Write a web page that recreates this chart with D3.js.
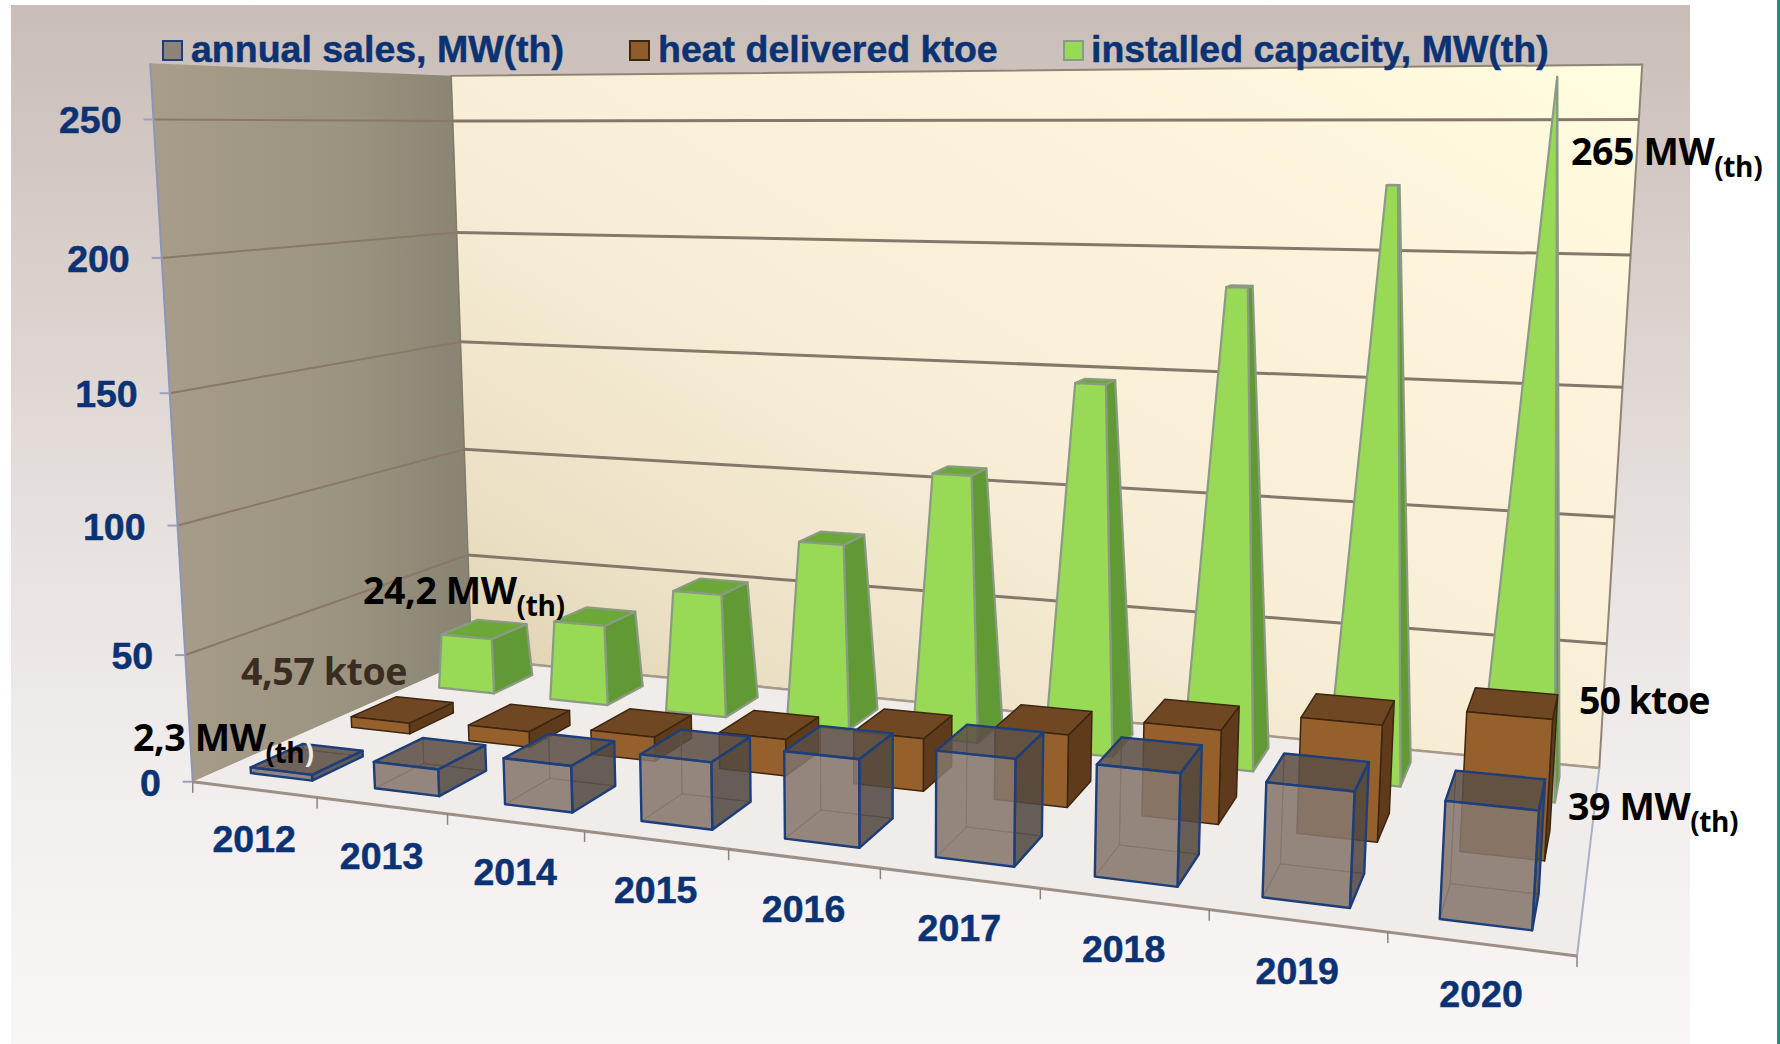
<!DOCTYPE html>
<html>
<head>
<meta charset="utf-8">
<script src="https://cdn.jsdelivr.net/npm/d3@7"></script>
<style>
  html, body { margin: 0; padding: 0; background: #fff; }
  svg { display: block; }
</style>
</head>
<body>
<div id="chart"></div>
<script>
// the values
let years = ["2012", "2013", "2014", "2015", "2016", "2017", "2018", "2019", "2020"];
let annualSales = [2.3, 10.4, 17.7, 25, 32, 38, 39, 39, 39];
let heatDelivered = [4.57, 6.5, 9.9, 14.6, 20.6, 27.7, 35.1, 42.5, 50];
let installedCapacity = [24.2, 34.6, 52.3, 77.3, 109, 148, 187, 226, 265];
let seriesNames = ["annual sales, MW(th)", "heat delivered ktoe", "installed capacity, MW(th)"];
let rows = ["sales", "heat", "capacity"];

let width = 1780, height = 1044;

let svg = d3.select("#chart").append("svg")
  .attr("width", width)
  .attr("height", height);

// scales: year -> 0..1 along the front edge, series -> 0..1 into the depth, value -> 0..1 up the wall
let x = d3.scaleBand().domain(years).range([0, 1]).paddingInner(0.5).paddingOuter(0.25);
let z = d3.scaleBand().domain(rows).range([0, 1]).paddingInner(0.5).paddingOuter(0.25);
let y = d3.scaleLinear().domain([0, 270]).range([0, 1]);

// camera: fitted once to where the corners of the 3d box sit in the picture [u, v, value, px, py]
let anchors = [
  [0, 0, 0, 193, 782], [1, 0, 0, 1577, 956], [0, 1, 0, 471, 659], [1, 1, 0, 1599, 768],
  [0, 0, 100, 178, 525], [0, 1, 100, 464, 449], [1, 1, 100, 1615, 517],
  [0, 0, 250, 153, 120], [0, 1, 250, 453, 121], [1, 1, 250, 1639, 119],
  [0, 0, 270, 150, 63], [0, 1, 270, 451, 76], [1, 1, 270, 1642, 65]
];

function solve(A, b) {
  let n = b.length;
  for (let i = 0; i < n; i++) {
    let best = i;
    for (let r = i + 1; r < n; r++) if (Math.abs(A[r][i]) > Math.abs(A[best][i])) best = r;
    [A[i], A[best]] = [A[best], A[i]];
    [b[i], b[best]] = [b[best], b[i]];
    for (let r = i + 1; r < n; r++) {
      let f = A[r][i] / A[i][i];
      for (let c = i; c < n; c++) A[r][c] -= f * A[i][c];
      b[r] -= f * b[i];
    }
  }
  let out = new Array(n).fill(0);
  for (let i = n - 1; i >= 0; i--) {
    let s = b[i];
    for (let c = i + 1; c < n; c++) s -= A[i][c] * out[c];
    out[i] = s / A[i][i];
  }
  return out;
}

function fitCamera() {
  let AtA = d3.range(11).map(() => new Array(11).fill(0));
  let Atb = new Array(11).fill(0);
  function addRow(row, t) {
    for (let i = 0; i < 11; i++) {
      Atb[i] += row[i] * t;
      for (let j = 0; j < 11; j++) AtA[i][j] += row[i] * row[j];
    }
  }
  anchors.forEach(function(a) {
    let u = a[0], v = a[1], w = y(a[2]), px = a[3] / 1000, py = a[4] / 1000;
    addRow([u, v, w, 1, 0, 0, 0, 0, -px * u, -px * v, -px * w], px);
    addRow([0, 0, 0, 0, u, v, w, 1, -py * u, -py * v, -py * w], py);
  });
  return solve(AtA, Atb);
}
let cam = fitCamera();

function project(u, v, value) {
  let w = y(value);
  let d = cam[8] * u + cam[9] * v + cam[10] * w + 1;
  return [1000 * (cam[0] * u + cam[1] * v + cam[2] * w + cam[3]) / d,
          1000 * (cam[4] * u + cam[5] * v + cam[6] * w + cam[7]) / d];
}

let poly = d3.line();
function face(points) { return poly(points) + "Z"; }

// gradients
let defs = svg.append("defs");
function gradient(id, x1, y1, x2, y2, stops) {
  let g = defs.append("linearGradient").attr("id", id)
    .attr("x1", x1).attr("y1", y1).attr("x2", x2).attr("y2", y2);
  stops.forEach(function(s) { g.append("stop").attr("offset", s[0]).attr("stop-color", s[1]); });
}
gradient("bgGrad", 0, 0, 0, 1, [[0, "#c9bdb7"], [0.25, "#d9cfcb"], [0.5, "#e6e1df"], [0.75, "#f2eeed"], [1, "#f9f6f5"]]);
gradient("backGrad", 0, 1, 1, 0, [[0, "#d9c9a6"], [0.2, "#ebe0c4"], [0.45, "#f8eed6"], [0.75, "#fdf3da"], [1, "#fffde0"]]);
gradient("sideGrad", 0, 0, 1, 0, [[0, "#a89d8a"], [0.6, "#9b9480"], [1, "#888372"]]);

// page background
svg.append("rect").attr("x", 11).attr("y", 5).attr("width", 1679).attr("height", 1039).attr("fill", "url(#bgGrad)");
svg.append("rect").attr("x", 1777).attr("y", 0).attr("width", 3).attr("height", height).attr("fill", "#1b8f82");

// walls and floor
svg.append("path")
  .attr("d", face([project(0, 1, 0), project(1, 1, 0), project(1, 1, 270), project(0, 1, 270)]))
  .attr("fill", "url(#backGrad)").attr("stroke", "#8f8475").attr("stroke-width", 2);
svg.append("path")
  .attr("d", face([project(0, 0, 0), project(0, 1, 0), project(0, 1, 270), project(0, 0, 270)]))
  .attr("fill", "url(#sideGrad)");
svg.append("path")
  .attr("d", face([project(0, 0, 0), project(1, 0, 0), project(1, 1, 0), project(0, 1, 0)]))
  .attr("fill", "#f0ecea");

// value gridlines and ticks
let yTicks = y.ticks(6);
yTicks.filter(d => d > 0).forEach(function(t) {
  svg.append("path").attr("d", poly([project(0, 0, t), project(0, 1, t)]))
    .attr("fill", "none").attr("stroke", "#8a7767").attr("stroke-width", 2);
  svg.append("path").attr("d", poly([project(0, 1, t), project(1, 1, t)]))
    .attr("fill", "none").attr("stroke", "#85786b").attr("stroke-width", 3);
});
svg.append("path").attr("d", poly([project(0, 0, 0), project(0, 0, 270)]))
  .attr("fill", "none").attr("stroke", "#8e96b6").attr("stroke-width", 2);
svg.append("path").attr("d", poly([project(0, 1, 270), project(0, 1, 0)]))
  .attr("fill", "none").attr("stroke", "#7f7a6a").attr("stroke-width", 1);
svg.append("path").attr("d", poly([project(1, 1, 0), project(1, 0, 0)]))
  .attr("fill", "none").attr("stroke", "#aab0c8").attr("stroke-width", 2);
svg.append("path").attr("d", poly([project(0, 0, 0), project(1, 0, 0)]))
  .attr("fill", "none").attr("stroke", "#9c9086").attr("stroke-width", 3);
svg.append("path").attr("d", poly([project(0, 1, 0), project(1, 1, 0)]))
  .attr("fill", "none").attr("stroke", "#a69a8b").attr("stroke-width", 2.5);

function blueText(sel) {
  return sel.attr("font-family", "Liberation Sans").attr("font-weight", "bold").attr("font-size", 37.5)
    .attr("fill", "#0b3273").attr("stroke", "#0b3273").attr("stroke-width", 0.5);
}

// y ticks and labels
yTicks.forEach(function(t) {
  let p = project(0, 0, t);
  svg.append("line").attr("x1", p[0] - 10).attr("x2", p[0]).attr("y1", p[1]).attr("y2", p[1])
    .attr("stroke", "#9aa0bc").attr("stroke-width", 2);
  blueText(svg.append("text").attr("x", p[0] - 32).attr("y", p[1] + 14).attr("text-anchor", "end")).text(t);
});

// x ticks and labels
d3.range(years.length + 1).forEach(function(i) {
  let p = project(i / years.length, 0, 0);
  svg.append("line").attr("x1", p[0]).attr("x2", p[0]).attr("y1", p[1]).attr("y2", p[1] + 11)
    .attr("stroke", "#8f8377").attr("stroke-width", 1.5);
});
years.forEach(function(yr) {
  let p = project(x(yr) + x.bandwidth() / 2, 0, 0);
  blueText(svg.append("text").attr("x", p[0]).attr("y", p[1] + 63).attr("text-anchor", "middle")).text(yr);
});

// corners of a bar at some height; taper narrows the section toward the tallest bar
function section(yr, row, value, taper) {
  let f = taper ? 1 - value / taper : 1;
  let cu = x(yr) + x.bandwidth() / 2, cv = z(row) + z.bandwidth() / 2;
  let hu = x.bandwidth() / 2 * f, hv = z.bandwidth() / 2 * f;
  return {
    fl: project(cu - hu, cv - hv, value),
    fr: project(cu + hu, cv - hv, value),
    br: project(cu + hu, cv + hv, value),
    bl: project(cu - hu, cv + hv, value)
  };
}

function drawSolid(g, yr, row, value, taper, c) {
  let lo = section(yr, row, 0, taper), hi = section(yr, row, value, taper);
  let faces = [
    {pts: [lo.fr, lo.br, hi.br, hi.fr], fill: c.right},
    {pts: [hi.fl, hi.fr, hi.br, hi.bl], fill: c.top},
    {pts: [lo.fl, lo.fr, hi.fr, hi.fl], fill: c.front}
  ];
  g.selectAll(null).data(faces).enter().append("path")
    .attr("d", d => face(d.pts))
    .attr("fill", d => d.fill)
    .attr("stroke", c.stroke).attr("stroke-width", c.sw).attr("stroke-linejoin", "round");
}

// green pyramids at the back
let greenColors = {front: "#98d955", right: "#619a35", top: "#6ba838", stroke: "#8b9a84", sw: 2.2};
let brownColors = {front: "#96602c", right: "#5f3b1b", top: "#6f4722", stroke: "#3d2610", sw: 1.5};
let maxCapacity = d3.max(installedCapacity);

let capacityG = svg.append("g");
years.forEach(function(yr, i) { drawSolid(capacityG, yr, "capacity", installedCapacity[i], maxCapacity, greenColors); });

let heatG = svg.append("g");
years.forEach(function(yr, i) { drawSolid(heatG, yr, "heat", heatDelivered[i], 0, brownColors); });

// see-through boxes in front
let salesG = svg.append("g");
years.forEach(function(yr, i) {
  let lo = section(yr, "sales", 0, 0), hi = section(yr, "sales", annualSales[i], 0);
  let inner = [
    {pts: [lo.fl, lo.fr, lo.br, lo.bl], fill: "#8d7f74"},
    {pts: [lo.bl, lo.br, hi.br, hi.bl], fill: "#8d7f74"},
    {pts: [lo.fl, lo.bl, hi.bl, hi.fl], fill: "#8d7f74"}
  ];
  salesG.selectAll(null).data(inner).enter().append("path")
    .attr("d", d => face(d.pts))
    .attr("fill", d => d.fill).attr("fill-opacity", 0.4)
    .attr("stroke", "#7b7570").attr("stroke-width", 1);
  let outer = [
    {pts: [lo.fr, lo.br, hi.br, hi.fr], fill: "#4a413a", o: 0.78},
    {pts: [hi.fl, hi.fr, hi.br, hi.bl], fill: "#564940", o: 0.78},
    {pts: [lo.fl, lo.fr, hi.fr, hi.fl], fill: "#85766b", o: 0.78}
  ];
  salesG.selectAll(null).data(outer).enter().append("path")
    .attr("d", d => face(d.pts))
    .attr("fill", d => d.fill).attr("fill-opacity", d => d.o)
    .attr("stroke", "#1c3f7c").attr("stroke-width", 2.4).attr("stroke-linejoin", "round");
});

// legend
let legendX = [163, 630, 1064];
let legendFill = ["#8f8378", "#8f5c2c", "#98d955"];
let legendStroke = ["#1c3f7c", "#3d2610", "#8b9a84"];
let legendTextX = [191, 658, 1091];
seriesNames.forEach(function(name, i) {
  svg.append("rect").attr("x", legendX[i]).attr("y", 41).attr("width", 19).attr("height", 19)
    .attr("fill", legendFill[i]).attr("stroke", legendStroke[i]).attr("stroke-width", 2);
  blueText(svg.append("text").attr("x", legendTextX[i]).attr("y", 62)).text(name);
});

// value call-outs
function callout(px, py, text, sub, color, spacing) {
  let t = svg.append("text").attr("x", px).attr("y", py)
    .attr("font-family", "Open Sans").attr("font-weight", "bold").attr("font-size", 37.5)
    .attr("letter-spacing", spacing === undefined ? -0.4 : spacing)
    .attr("fill", color).text(text);
  if (sub) t.append("tspan").attr("font-size", 28).attr("dy", 12).text(sub);
  return t;
}
callout(1571, 165, "265 MW", "(th)", "#000");
callout(363, 604, "24,2 MW", "(th)", "#000");
callout(241, 685, "4,57 ktoe", null, "#3a2c20");
// the closing bracket of this one is washed out in the picture
callout(133, 751, "2,3 MW", "(th", "#000").append("tspan").attr("font-size", 28).attr("fill", "#f1eeea").text(")");
callout(1579, 714, "50 ktoe", null, "#000", -1);
callout(1568, 820, "39 MW", "(th)", "#000");
</script>
</body>
</html>
